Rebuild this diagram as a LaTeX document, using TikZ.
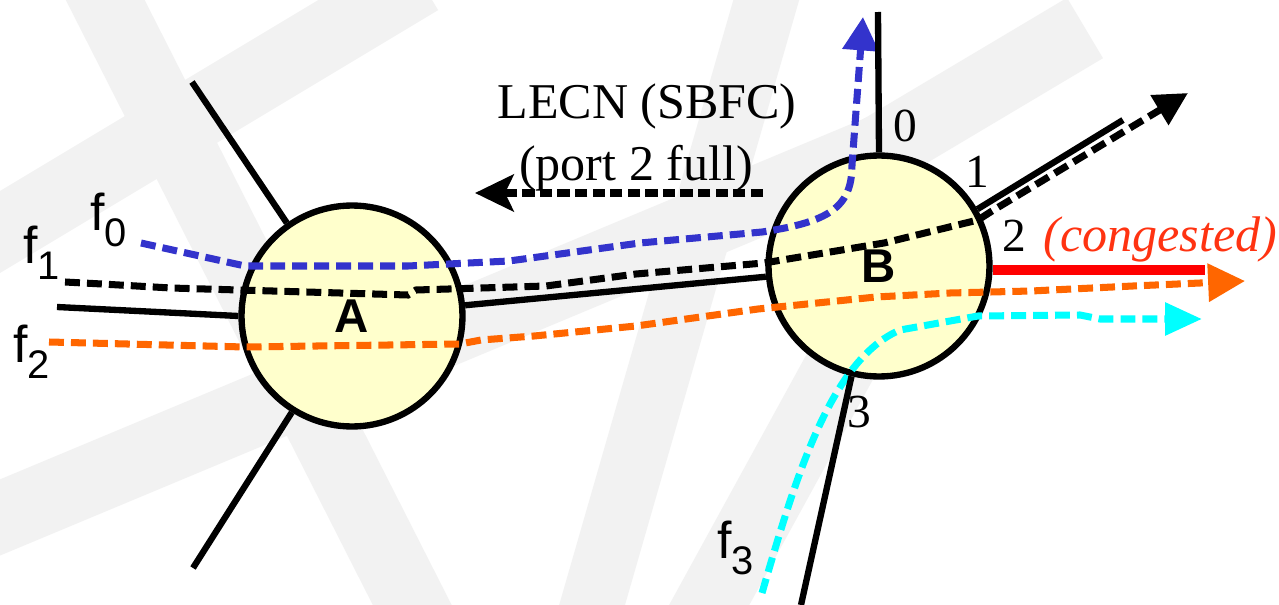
\documentclass[tikz,border=0pt]{standalone}
\usepackage{fontspec}
\setmainfont{Liberation Serif}
\newfontfamily\arialf{Liberation Sans}
\usetikzlibrary{arrows.meta}
\definecolor{nodeyellow}{HTML}{FFFFCC}
\definecolor{flowblue}{HTML}{3333CC}
\definecolor{floworange}{HTML}{FF6600}
\definecolor{flowcyan}{HTML}{00FFFF}
\definecolor{congred}{HTML}{FF0000}
\definecolor{congtext}{HTML}{FF3311}
\definecolor{bandgray}{HTML}{F2F2F2}
\newcommand\flabsub[1]{f\raisebox{-9.6pt}{\fontsize{22.7}{23}\selectfont #1}}
\begin{document}
\begin{tikzpicture}[x=0.02cm,y=-0.02cm,
  bgband/.style={line width=40pt, bandgray},
  router/.style={circle, draw, line width=3.6pt, fill=nodeyellow, minimum size=4.42cm, inner sep=0pt,
    font=\arialf\bfseries\fontsize{27}{27}\selectfont},
  link/.style={line width=3.6pt},
  flow/.style={line width=4pt, dash pattern=on 8.5pt off 4pt},
  serifnum/.style={font=\fontsize{27}{27}\selectfont, inner sep=0pt, anchor=base},
  flab/.style={font=\arialf\fontsize{29.5}{30}\selectfont, inner sep=0pt, anchor=base west}]
\useasboundingbox (0,0) rectangle (1279,605);
\fill[white] (0,0) rectangle (1279,605);
% faint watermark bands
\draw[bgband] (90,-30) -- (430,640);
\draw[bgband] (420,-20) -- (-30,250);
\draw[bgband] (-30,530) -- (880,150);
\draw[bgband, line width=36pt] (772,-20) -- (582,640);
\draw[bgband] (860,330) -- (690,640);
\draw[bgband, line cap=butt] (880,150) -- (1085,28);
% routers
\node[router] (A) at (352,316) {A};
\node[router] (B) at (879,266) {B};
% free ends
\coordinate (a1) at (192,82);
\coordinate (a2) at (193,568);
\coordinate (a3) at (57,307);
\coordinate (p0) at (878,12);
\coordinate (p1) at (1123,120);
\coordinate (p3) at (801,605);
\coordinate (lecnS) at (763,193);
\coordinate (lecnE) at (475,193);
% flows
\draw[flow, flowblue, -{Triangle[length=19pt,width=20pt]}]
  (141,243) -- (245,266) -- (408,266) -- (509,261) -- (640,243) -- (762,232)
  .. controls (828,222) and (852,208) .. (852,165) -- (863,17);
\draw[flow, black, -{Triangle[length=19pt,width=19pt]}]
  (65,282) -- (102,284) -- (171,288) -- (408,295) -- (416,290) -- (546,286) -- (636,274)
  -- (764,263) -- (884,243) -- (978,220) -- (992,211) -- (1188,93);
\draw[flow, floworange, -{Triangle[length=21pt,width=21pt]}]
  (49,342) -- (245,347) -- (460,344) -- (481,340) -- (534,336) -- (636,326) -- (758,309)
  -- (876,297) -- (950,293) -- (1031,291) -- (1133,286) -- (1245,281);
\draw[flow, flowcyan, -{Triangle[length=21pt,width=18pt]}]
  (762,593) .. controls (795,480) and (830,360) .. (900,330) -- (978,316) -- (1080,315)
  -- (1100,319) -- (1202,319);
% links
\draw[link] (A.125) -- (a1);
\draw[link] (A.238) -- (a2);
\draw[link] (A.180) -- (a3);
\draw[link] (A) -- (B);
\draw[link] (B.90) -- (p0);
\draw[link] (B.30) -- (p1);
\draw[link] (B.256) -- (p3);
\draw[line width=5.5pt, congred] (B.-2) -- ++(212,0) coordinate (p2);
% LECN notification
\draw[line width=4.4pt, dash pattern=on 7pt off 3pt, -{Stealth[length=22pt,width=21pt,inset=5pt]}] (lecnS) -- (lecnE);
\node[serifnum, font=\fontsize{28.5}{28.5}\selectfont] (lecn1) at (647,118) {LECN (SBFC)};
\node[serifnum, font=\fontsize{28.5}{28.5}\selectfont] (lecn2) at (636,180) {(port 2 full)};
% port numbers
\node[serifnum] (n0) at (905,141) {0};
\node[serifnum] (n1) at (977,187) {1};
\node[serifnum] (n2) at (1014,251) {2};
\node[serifnum] (n3) at (859,427) {3};
\node[serifnum, anchor=base west, text=congtext, font=\itshape\fontsize{28.5}{28.5}\selectfont] (cong) at (1043,251) {(congested)};
% flow labels
\node[flab] (f0) at (90,230) {\flabsub{0}};
\node[flab] (f1) at (23,263) {\flabsub{1}};
\node[flab] (f2) at (13,362) {\flabsub{2}};
\node[flab] (f3) at (717,558) {\flabsub{3}};
\end{tikzpicture}
\end{document}
